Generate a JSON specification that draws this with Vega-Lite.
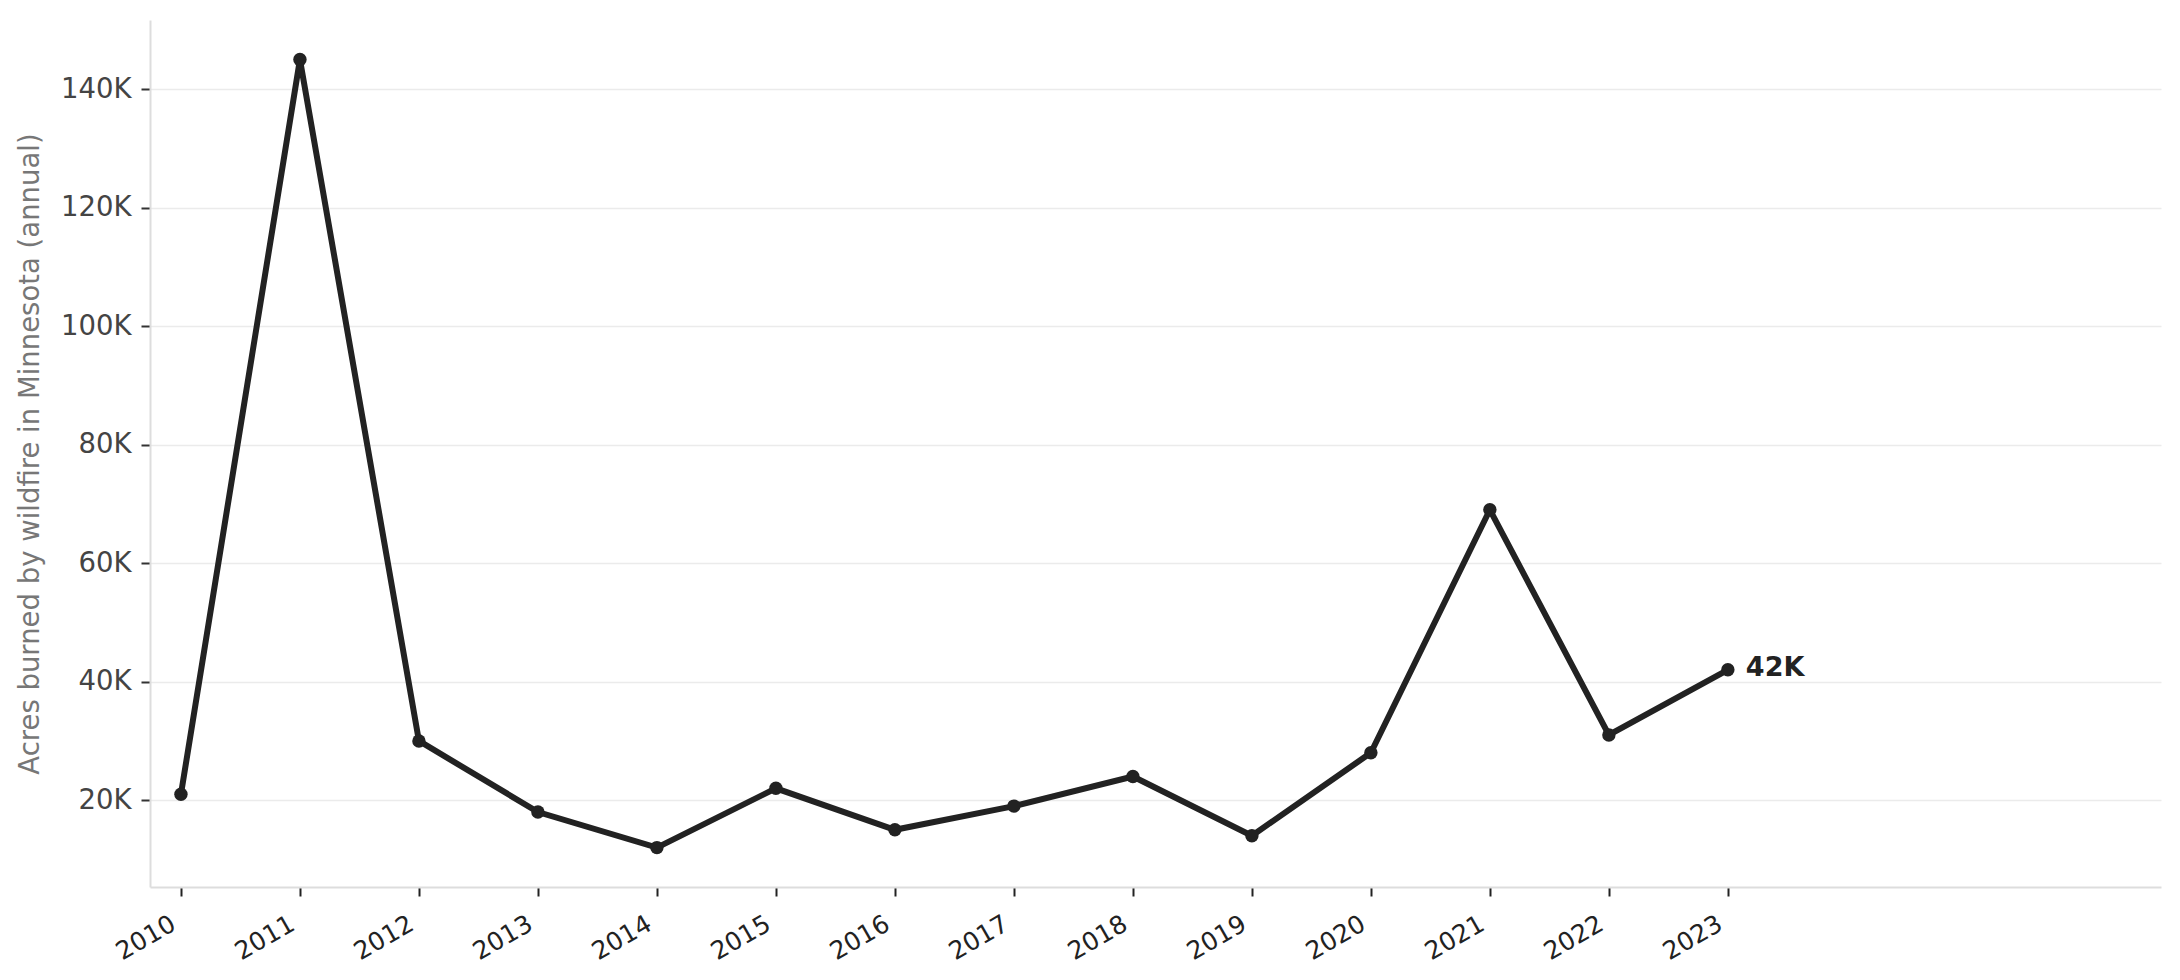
{
  "$schema": "https://vega.github.io/schema/vega-lite/v6.json",
  "width": 2011,
  "height": 867,
  "autosize": {"type": "none"},
  "padding": {"left": 150, "top": 20, "right": 19, "bottom": 93},
  "background": "white",
  "config": {
    "font": "DejaVu Sans",
    "view": {"stroke": null},
    "axis": {"domainColor": "#dddddd", "domainWidth": 2, "tickWidth": 2}
  },
  "datasets": {
    "fires": [
      {"year": 2010, "acres": 21000},
      {"year": 2011, "acres": 145000},
      {"year": 2012, "acres": 30000},
      {"year": 2013, "acres": 18000},
      {"year": 2014, "acres": 12000},
      {"year": 2015, "acres": 22000},
      {"year": 2016, "acres": 15000},
      {"year": 2017, "acres": 19000},
      {"year": 2018, "acres": 24000},
      {"year": 2019, "acres": 14000},
      {"year": 2020, "acres": 28000},
      {"year": 2021, "acres": 69000},
      {"year": 2022, "acres": 31000},
      {"year": 2023, "acres": 42000}
    ],
    "last": [
      {"year": 2023, "acres": 42000, "label": "42K"}
    ]
  },
  "encoding": {
    "x": {
      "field": "year",
      "type": "quantitative",
      "scale": {"domain": [2009.74, 2026.64], "nice": false, "zero": false},
      "axis": {
        "title": null,
        "values": [2010, 2011, 2012, 2013, 2014, 2015, 2016, 2017, 2018, 2019, 2020, 2021, 2022, 2023],
        "format": "d",
        "grid": false,
        "labelAngle": -30,
        "labelAlign": "right",
        "labelBaseline": "top",
        "labelFontSize": 25,
        "labelColor": "#222222",
        "labelPadding": 15,
        "labelOffset": -14,
        "tickColor": "#222222",
        "tickSize": 9,
        "labelOverlap": false
      }
    },
    "y": {
      "field": "acres",
      "type": "quantitative",
      "scale": {"domain": [5350, 151650], "nice": false, "zero": false},
      "axis": {
        "title": "Acres burned by wildfire in Minnesota (annual)",
        "titleFontSize": 27.5,
        "titleFontWeight": "normal",
        "titleColor": "#777777",
        "titlePadding": 16,
        "values": [20000, 40000, 60000, 80000, 100000, 120000, 140000],
        "labelExpr": "(datum.value / 1000) + 'K'",
        "labelFontSize": 27.5,
        "labelColor": "#444444",
        "labelPadding": 10,
        "tickColor": "#333333",
        "tickSize": 9,
        "grid": true,
        "gridColor": "#ebebeb",
        "gridWidth": 1.5
      }
    }
  },
  "layer": [
    {
      "data": {"name": "fires"},
      "mark": {"type": "line", "color": "#222222", "strokeWidth": 6}
    },
    {
      "data": {"name": "fires"},
      "mark": {"type": "point", "filled": true, "color": "#222222", "size": 180, "opacity": 1}
    },
    {
      "data": {"name": "last"},
      "mark": {"type": "text", "align": "left", "baseline": "middle", "dx": 18, "dy": -2, "fontSize": 27, "fontWeight": "bold", "color": "#222222"},
      "encoding": {"text": {"field": "label"}}
    }
  ]
}
